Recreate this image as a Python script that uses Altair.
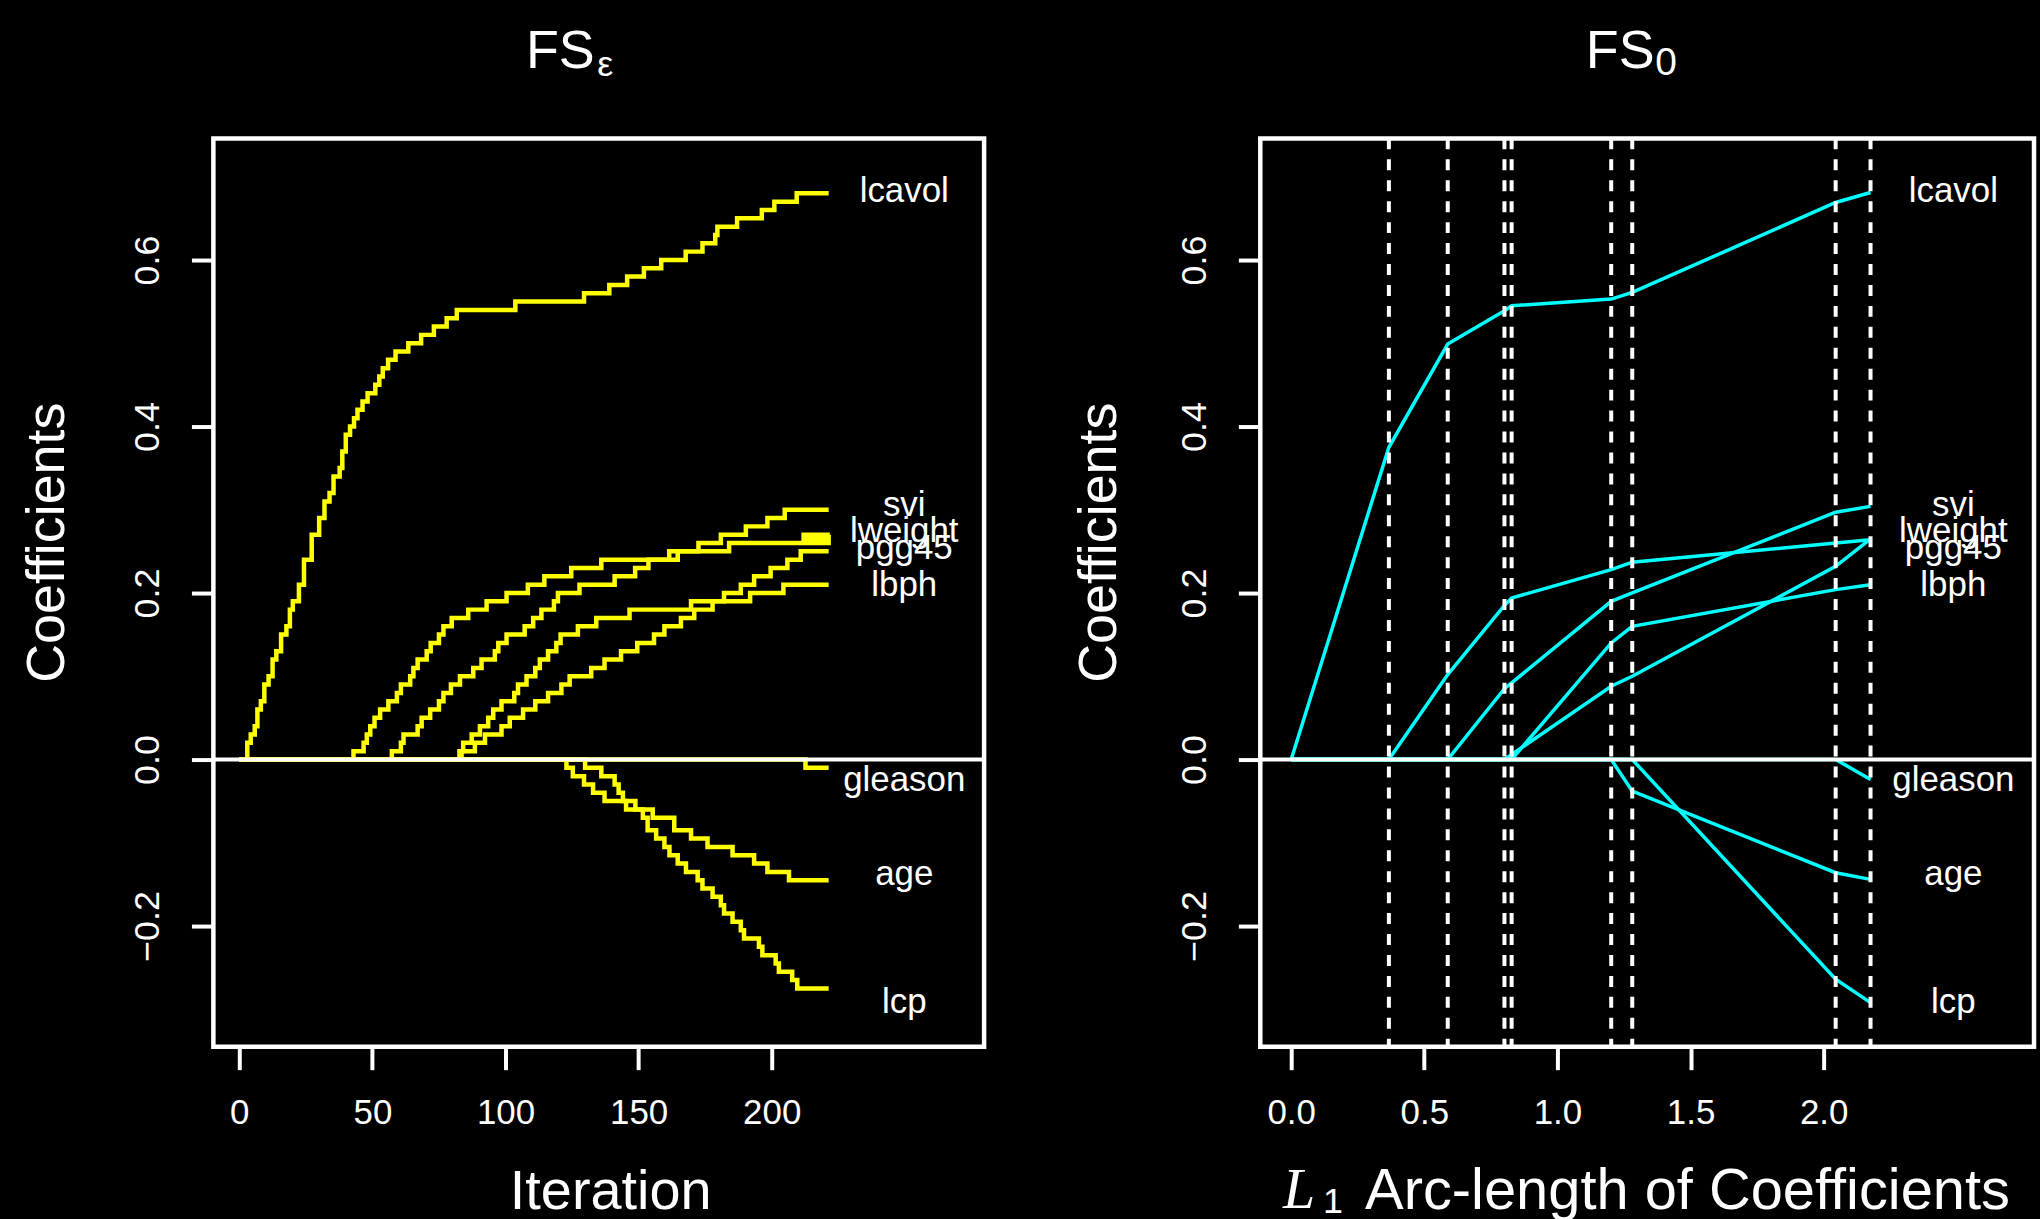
import altair as alt
import pandas as pd

# ---------------- data ----------------
# Left panel: FS_eps (stagewise), coefficient value after each step change
eps_lcavol_it = [0, 3, 4.3, 5.8, 6.8, 8.1, 9.4, 11, 12.5, 13.9, 15.7, 17.7, 19, 20.1, 22.4, 24.3, 27.2, 30, 32, 33.9,
                 35.4, 37.7, 38.7, 40, 41.6, 43.1, 44.4, 46.3, 48.2, 51.1, 52.6, 53.9, 55.9, 58.7, 63.5, 68.3, 73.1,
                 77.9, 81.7, 103.7, 129.5, 139, 145.7, 152, 158.5, 167.7, 174, 178.8, 179.6, 187, 196.3, 201, 209.4, 221.4]
eps_lcavol_v = [0, 0.02, 0.03, 0.04, 0.06, 0.07, 0.09, 0.10, 0.12, 0.13, 0.15, 0.16, 0.18, 0.19, 0.21, 0.24, 0.27, 0.29,
                0.31, 0.32, 0.34, 0.35, 0.37, 0.39, 0.40, 0.41, 0.42, 0.43, 0.44, 0.45, 0.46, 0.47, 0.48, 0.49, 0.50,
                0.51, 0.52, 0.53, 0.54, 0.55, 0.56, 0.57, 0.58, 0.59, 0.60, 0.61, 0.62, 0.63, 0.64, 0.65, 0.66, 0.67,
                0.68, 0.68]

eps_lweight_it = [0, 42.9, 46.7, 47.9, 49.2, 50.8, 52.9, 56, 59.2, 60.7, 64.2, 65.4, 67, 70.4, 71.9, 75, 76.7, 79.8,
                  86, 92.9, 100.4, 108.4, 114.6, 124.7, 136, 164.7, 184, 212, 213, 214, 215, 216, 217, 218, 219, 220,
                  221, 221.4]
eps_lweight_v = [0, 0.01, 0.02, 0.03, 0.04, 0.05, 0.06, 0.07, 0.08, 0.09, 0.10, 0.11, 0.12, 0.13, 0.14, 0.15, 0.16,
                 0.17, 0.18, 0.19, 0.20, 0.21, 0.22, 0.23, 0.24, 0.25, 0.26, 0.27, 0.26, 0.27, 0.26, 0.27, 0.26, 0.27,
                 0.26, 0.27, 0.26, 0.27]

eps_svi_it = [0, 57.3, 60.7, 61.7, 67, 68.5, 71.7, 75, 76.7, 79.5, 82.9, 87.9, 91, 96, 97.3, 100.4, 107.2, 110.4,
              113.5, 118.2, 119.7, 127.8, 141, 148.7, 153.7, 161.5, 172.5, 180.9, 190.3, 198.4, 204.9, 221.4]
eps_svi_v = [0, 0.01, 0.02, 0.03, 0.04, 0.05, 0.06, 0.07, 0.08, 0.09, 0.10, 0.11, 0.12, 0.13, 0.14, 0.15, 0.16, 0.17,
             0.18, 0.19, 0.20, 0.21, 0.22, 0.23, 0.24, 0.25, 0.26, 0.27, 0.28, 0.29, 0.30, 0.30]

eps_lbph_it = [0, 83.5, 84.1, 87.3, 90.4, 93.5, 95.4, 98.5, 103.3, 104.7, 107.9, 111.2, 112.9, 116, 119.1, 120.7,
               127.2, 134.1, 146.6, 169.7, 191.9, 204.4, 221.4]
eps_lbph_v = [0, 0.01, 0.02, 0.03, 0.04, 0.05, 0.06, 0.07, 0.08, 0.09, 0.10, 0.11, 0.12, 0.13, 0.14, 0.15, 0.16,
              0.17, 0.18, 0.19, 0.20, 0.21, 0.21]

eps_pgg45_it = [0, 82.7, 88.5, 92.3, 98.5, 101.6, 106.6, 111.2, 116, 121, 124.1, 132.2, 137.2, 143.4, 149.5, 155.8,
                159.7, 165.9, 170.9, 177.8, 182.1, 188.4, 193.4, 199.6, 205.9, 210.9, 221.4]
eps_pgg45_v = [0, 0.01, 0.02, 0.03, 0.04, 0.05, 0.06, 0.07, 0.08, 0.09, 0.10, 0.11, 0.12, 0.13, 0.14, 0.15, 0.16,
               0.17, 0.18, 0.19, 0.20, 0.21, 0.22, 0.23, 0.24, 0.25, 0.25]

eps_gleason_it = [0, 212.7, 221.4]
eps_gleason_v = [0, -0.01, -0.01]

eps_age_it = [0, 122.9, 125.3, 129.5, 132.9, 137.2, 148.8, 155.3, 163.4, 169.7, 175.9, 185.3, 193.4, 198.4, 206.5, 221.4]
eps_age_v = [0, -0.01, -0.02, -0.03, -0.04, -0.05, -0.06, -0.07, -0.085, -0.095, -0.105, -0.115, -0.125, -0.135,
             -0.145, -0.145]

eps_lcp_it = [0, 129.9, 136, 141, 142.5, 144.1, 145.3, 151.6, 153.4, 156.6, 159.7, 161.6, 164.7, 167.8, 172.2, 174.0,
              177.8, 180.9, 182.1, 185.3, 188.4, 189.6, 195.2, 196.5, 201.5, 202.7, 207.7, 209.6, 221.4]
eps_lcp_v = [0, -0.01, -0.02, -0.03, -0.04, -0.05, -0.06, -0.07, -0.085, -0.095, -0.105, -0.115, -0.125, -0.135,
             -0.145, -0.155, -0.165, -0.175, -0.185, -0.195, -0.205, -0.215, -0.225, -0.235, -0.245, -0.255, -0.265,
             -0.275, -0.275]

# Right panel: FS_0, piecewise linear between the knots (dashed lines)
fs0_x = [0, 0.367, 0.588, 0.801, 0.828, 1.202, 1.281, 2.045, 2.176]
fs0_lcavol = [0, 0.375, 0.499, 0.539, 0.545, 0.553, 0.561, 0.669, 0.681]
fs0_lweight = [0, 0, 0.102, 0.185, 0.194, 0.228, 0.237, 0.260, 0.264]
fs0_svi = [0, 0, 0, 0.085, 0.092, 0.190, 0.200, 0.297, 0.304]
fs0_pgg45 = [0, 0, 0, 0, 0.006, 0.088, 0.100, 0.232, 0.265]
fs0_lbph = [0, 0, 0, 0, 0, 0.140, 0.160, 0.204, 0.210]
fs0_age = [0, 0, 0, 0, 0, 0, -0.038, -0.136, -0.144]
fs0_lcp = [0, 0, 0, 0, 0, 0, 0, -0.264, -0.292]
fs0_gleason = [0, 0, 0, 0, 0, 0, 0, 0, -0.024]
fs0_breaks = [0.367, 0.588, 0.801, 0.828, 1.202, 1.281, 2.045, 2.176]

label_names = ["lcavol", "svi", "lweight", "pgg45", "lbph", "gleason", "age", "lcp"]
label_y = [0.683, 0.306, 0.274, 0.254, 0.2095, -0.0246, -0.137, -0.291]

left_ticks = [0, 50, 100, 150, 200]
right_ticks = [0, 0.5, 1.0, 1.5, 2.0]
y_ticks = [-0.2, 0.0, 0.2, 0.4, 0.6]

# ---------------- tables ----------------
eps_series = {
    "lcavol": (eps_lcavol_it, eps_lcavol_v),
    "lweight": (eps_lweight_it, eps_lweight_v),
    "svi": (eps_svi_it, eps_svi_v),
    "lbph": (eps_lbph_it, eps_lbph_v),
    "pgg45": (eps_pgg45_it, eps_pgg45_v),
    "gleason": (eps_gleason_it, eps_gleason_v),
    "age": (eps_age_it, eps_age_v),
    "lcp": (eps_lcp_it, eps_lcp_v),
}
rows = []
for name, (its, vs) in eps_series.items():
    for i, v in zip(its, vs):
        rows.append({"var": name, "x": i, "v": v})
df_eps = pd.DataFrame(rows)

fs0_series = {
    "lcavol": fs0_lcavol, "lweight": fs0_lweight, "svi": fs0_svi, "pgg45": fs0_pgg45,
    "lbph": fs0_lbph, "age": fs0_age, "lcp": fs0_lcp, "gleason": fs0_gleason,
}
rows = []
for name, vs in fs0_series.items():
    for xx, v in zip(fs0_x, vs):
        rows.append({"var": name, "x": xx, "v": v})
df_fs0 = pd.DataFrame(rows)

df_labels = pd.DataFrame({"name": label_names, "v": label_y})
df_breaks = pd.DataFrame({"b": fs0_breaks})
df_one = pd.DataFrame({"t": ["FS"]})

SANS = "Liberation Sans"
W, H = 773, 911
W2 = 776

Y_DOM = [-0.345, 0.746]


def y_axis(title_x):
    return alt.Axis(values=y_ticks, format=".1f", title="Coefficients", grid=False, domain=False,
                    tickSize=22, tickWidth=4, tickColor="white", labelColor="white",
                    labelFont=SANS, labelFontSize=36, labelAngle=-90, labelAlign="center",
                    labelBaseline="alphabetic", labelPadding=33, labelFlush=False, labelOverlap=False,
                    titleFont=SANS, titleFontSize=54, titleFontWeight="normal", titleColor="white",
                    titleAngle=270, titleAlign="center", titleBaseline="alphabetic",
                    titleX=title_x, titleY=405)


def x_axis(values, fmt, title, title_x, title_size):
    return alt.Axis(values=values, format=fmt, title=title, grid=False, domain=False,
                    tickSize=23, tickWidth=4, tickColor="white", labelColor="white",
                    labelFont=SANS, labelFontSize=35, labelBaseline="alphabetic", labelPadding=54,
                    labelFlush=False, labelOverlap=False,
                    titleFont=SANS, titleFontSize=title_size, titleFontWeight="normal", titleColor="white",
                    titleAlign="center", titleBaseline="alphabetic", titleX=title_x, titleY=162)


def txt(text, x, y, size, font=SANS, style="normal"):
    return alt.Chart(df_one).mark_text(text=text, font=font, fontSize=size, fontStyle=style,
                                       color="white", align="center", baseline="alphabetic").encode(
        x=alt.value(x), y=alt.value(y))


# ---------------- left panel ----------------
xs_l = alt.Scale(domain=[-9.74, 279.8], nice=False, zero=False)
ys = alt.Scale(domain=Y_DOM, nice=False, zero=False)

left_lines = alt.Chart(df_eps).mark_line(interpolate="step-after", color="#FFFF00", strokeWidth=4.5).encode(
    x=alt.X("x:Q", scale=xs_l, axis=x_axis(left_ticks, "d", "Iteration", 398, 56)),
    y=alt.Y("v:Q", scale=ys, axis=y_axis(-150)),
    detail="var:N",
)
left_zero = alt.Chart(df_one).mark_rule(color="white", strokeWidth=4).encode(y=alt.datum(0))
left_labels = alt.Chart(df_labels).mark_text(font=SANS, fontSize=35, color="white", align="center",
                                             baseline="middle").encode(
    x=alt.datum(249.8), y="v:Q", text="name:N")
left_anchor = alt.Chart(df_one).mark_rect(color="black").encode(
    x=alt.value(-211), x2=alt.value(-210), y=alt.value(-134), y2=alt.value(-133))

left = alt.layer(
    left_anchor, left_lines, left_zero, left_labels,
    txt("FS", 348, -71, 54), txt("ε", 393, -63, 36),
).properties(width=W, height=H)

# ---------------- right panel ----------------
xs_r = alt.Scale(domain=[-0.116, 2.79], nice=False, zero=False)

right_lines = alt.Chart(df_fs0).mark_line(color="#00FFFF", strokeWidth=3.5).encode(
    x=alt.X("x:Q", scale=xs_r, axis=x_axis(right_ticks, ".1f", "Arc-length of Coefficients", 428, 58)),
    y=alt.Y("v:Q", scale=ys, axis=y_axis(-145)),
    detail="var:N",
)
right_zero = alt.Chart(df_one).mark_rule(color="white", strokeWidth=4).encode(y=alt.datum(0))
right_breaks = alt.Chart(df_breaks).mark_rule(color="white", strokeWidth=4, strokeDash=[11, 10]).encode(
    x="b:Q")
right_labels = alt.Chart(df_labels).mark_text(font=SANS, fontSize=35, color="white", align="center",
                                              baseline="middle").encode(
    x=alt.datum(2.487), y="v:Q", text="name:N")
right_anchor = alt.Chart(df_one).mark_rect(color="black").encode(
    x=alt.value(778), x2=alt.value(779), y=alt.value(1084), y2=alt.value(1085))

right = alt.layer(
    right_anchor, right_lines, right_zero, right_breaks, right_labels,
    txt("FS", 361, -71, 54), txt("0", 407, -64, 39),
    txt("L", 39, 1073, 58, font="Liberation Serif", style="italic"),
    txt("1", 73, 1078, 36),
).properties(width=W2, height=H)

chart = alt.hconcat(left, right, spacing=277, bounds="flush").properties(
    padding=0, background="black"
).configure_view(stroke="white", strokeWidth=4.5)

chart.save("out.html", embed_options={"renderer": "svg", "actions": False})
